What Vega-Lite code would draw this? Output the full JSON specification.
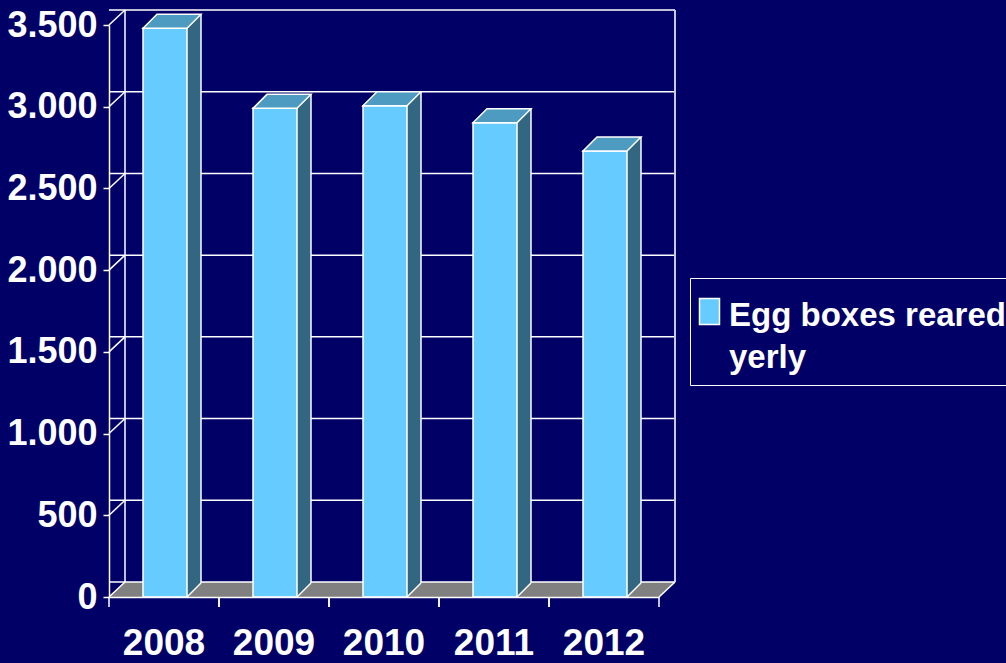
{
  "$schema": "https://vega.github.io/schema/vega-lite/v6.json",
  "width": 550,
  "height": 572,
  "autosize": {"type": "none"},
  "padding": {"left": 109, "top": 25, "right": 347, "bottom": 66},
  "background": "#000066",
  "config": {
    "view": {"stroke": null},
    "font": "Liberation Sans, Arial, sans-serif",
    "axisX": {"labelPadding": 28, "labelAlign": "center", "labelBaseline": "top", "bandPosition": 0.5}
  },
  "datasets": {
    "bars": [
      {"year": "2008", "boxes": 3480},
      {"year": "2009", "boxes": 2990},
      {"year": "2010", "boxes": 3006},
      {"year": "2011", "boxes": 2902},
      {"year": "2012", "boxes": 2729}
    ],
    "levels": [
      {"v": 0}, {"v": 500}, {"v": 1000}, {"v": 1500},
      {"v": 2000}, {"v": 2500}, {"v": 3000}, {"v": 3500}
    ],
    "one": [{"k": 1}]
  },
  "layer": [
    {
      "data": {"name": "bars"},
      "mark": {"type": "point", "shape": "M-55.5,0 L55.5,0 L71.5,-15 L-39.5,-15 Z", "size": 4, "filled": true, "color": "#808080", "opacity": 1, "strokeWidth": 0},
      "encoding": {
        "x": {"field": "year", "type": "nominal", "title": null, "scale": {"type": "band", "domain": ["2008", "2009", "2010", "2011", "2012"], "paddingInner": 0, "paddingOuter": 0}},
        "y": {"datum": 0, "type": "quantitative", "title": null, "scale": {"domain": [0, 3500], "nice": false}}
      }
    },
    {
      "data": {"name": "levels"},
      "mark": {"type": "rule", "color": "white", "strokeWidth": 1.5, "xOffset": 16, "x2Offset": 16, "yOffset": -15},
      "encoding": {
        "y": {"field": "v", "type": "quantitative", "title": null, "scale": {"domain": [0, 3500], "nice": false}}
      }
    },
    {
      "data": {"name": "bars"},
      "mark": {"type": "rule", "color": "white", "strokeWidth": 1.5, "xOffset": -39, "yOffset": -15, "y2Offset": -15},
      "transform": [{"filter": "datum.year == '2008'"}],
      "encoding": {
        "x": {"field": "year", "type": "nominal", "title": null, "scale": {"type": "band", "domain": ["2008", "2009", "2010", "2011", "2012"], "paddingInner": 0, "paddingOuter": 0}},
        "y": {"datum": 0, "type": "quantitative", "title": null, "scale": {"domain": [0, 3500], "nice": false}},
        "y2": {"datum": 3500}
      }
    },
    {
      "data": {"name": "bars"},
      "mark": {"type": "rule", "color": "#c8c8e6", "strokeWidth": 2, "xOffset": 71, "yOffset": -15, "y2Offset": -15},
      "transform": [{"filter": "datum.year == '2012'"}],
      "encoding": {
        "x": {"field": "year", "type": "nominal", "title": null, "scale": {"type": "band", "domain": ["2008", "2009", "2010", "2011", "2012"], "paddingInner": 0, "paddingOuter": 0}},
        "y": {"datum": 0, "type": "quantitative", "title": null, "scale": {"domain": [0, 3500], "nice": false}},
        "y2": {"datum": 3500}
      }
    },
    {
      "data": {"name": "levels"},
      "mark": {"type": "point", "shape": "M-55,0 L-39,-15", "size": 4, "filled": false, "color": "white", "strokeWidth": 1.5, "opacity": 1},
      "encoding": {
        "x": {"datum": "2008", "type": "nominal", "title": null, "scale": {"type": "band", "domain": ["2008", "2009", "2010", "2011", "2012"], "paddingInner": 0, "paddingOuter": 0}},
        "y": {"field": "v", "type": "quantitative", "title": null, "scale": {"domain": [0, 3500], "nice": false}}
      }
    },
    {
      "data": {"name": "bars"},
      "mark": {"type": "point", "shape": "M55,0 L71,-15", "size": 4, "filled": false, "color": "white", "strokeWidth": 1.5, "opacity": 1},
      "transform": [{"filter": "datum.year == '2012'"}],
      "encoding": {
        "x": {"field": "year", "type": "nominal", "title": null, "scale": {"type": "band", "domain": ["2008", "2009", "2010", "2011", "2012"], "paddingInner": 0, "paddingOuter": 0}},
        "y": {"datum": 0, "type": "quantitative", "title": null, "scale": {"domain": [0, 3500], "nice": false}}
      }
    },
    {
      "data": {"name": "bars"},
      "mark": {"type": "point", "shape": "M-55,0 L-55,10 M55,0 L55,10", "size": 4, "filled": false, "color": "white", "strokeWidth": 1.5, "opacity": 1},
      "encoding": {
        "x": {"field": "year", "type": "nominal", "title": null, "scale": {"type": "band", "domain": ["2008", "2009", "2010", "2011", "2012"], "paddingInner": 0, "paddingOuter": 0}},
        "y": {"datum": 0, "type": "quantitative", "title": null, "scale": {"domain": [0, 3500], "nice": false}}
      }
    },
    {
      "data": {"name": "bars"},
      "mark": {"type": "bar", "width": 14, "xOffset": 30, "yOffset": -14, "y2Offset": -14, "color": "#336680"},
      "encoding": {
        "x": {"field": "year", "type": "nominal", "title": null, "scale": {"type": "band", "domain": ["2008", "2009", "2010", "2011", "2012"], "paddingInner": 0, "paddingOuter": 0}},
        "y": {"field": "boxes", "type": "quantitative", "title": null, "scale": {"domain": [0, 3500], "nice": false}},
        "y2": {"datum": 0}
      }
    },
    {
      "data": {"name": "bars"},
      "mark": {"type": "point", "shape": "M23,-14.5 L37.5,-14.5 L23,0 Z", "size": 4, "filled": true, "color": "#336680", "opacity": 1, "strokeWidth": 0},
      "encoding": {
        "x": {"field": "year", "type": "nominal", "title": null, "scale": {"type": "band", "domain": ["2008", "2009", "2010", "2011", "2012"], "paddingInner": 0, "paddingOuter": 0}},
        "y": {"datum": 0, "type": "quantitative", "title": null, "scale": {"domain": [0, 3500], "nice": false}}
      }
    },
    {
      "data": {"name": "bars"},
      "mark": {"type": "rule", "color": "white", "strokeWidth": 1.5, "xOffset": 37, "yOffset": -14, "y2Offset": -14},
      "encoding": {
        "x": {"field": "year", "type": "nominal", "title": null, "scale": {"type": "band", "domain": ["2008", "2009", "2010", "2011", "2012"], "paddingInner": 0, "paddingOuter": 0}},
        "y": {"field": "boxes", "type": "quantitative", "title": null, "scale": {"domain": [0, 3500], "nice": false}},
        "y2": {"datum": 0}
      }
    },
    {
      "data": {"name": "bars"},
      "mark": {"type": "point", "shape": "M23,0 L37,-14", "size": 4, "filled": false, "color": "white", "strokeWidth": 1.5, "opacity": 1},
      "encoding": {
        "x": {"field": "year", "type": "nominal", "title": null, "scale": {"type": "band", "domain": ["2008", "2009", "2010", "2011", "2012"], "paddingInner": 0, "paddingOuter": 0}},
        "y": {"datum": 0, "type": "quantitative", "title": null, "scale": {"domain": [0, 3500], "nice": false}}
      }
    },
    {
      "data": {"name": "bars"},
      "mark": {"type": "bar", "width": 44, "xOffset": 1, "stroke": "white", "strokeWidth": 1.5},
      "encoding": {
        "x": {
          "field": "year", "type": "nominal", "title": null,
          "scale": {"type": "band", "domain": ["2008", "2009", "2010", "2011", "2012"], "paddingInner": 0, "paddingOuter": 0},
          "axis": {"title": null, "zindex": 1, "bandPosition": 0.5, "labelAngle": 0, "labelAlign": "center", "labelBaseline": "top", "labelFontSize": 37, "labelFontWeight": "bold", "labelColor": "white", "domainColor": "white", "domainWidth": 1.5, "ticks": false, "labelPadding": 28, "grid": false}
        },
        "y": {
          "field": "boxes", "type": "quantitative", "title": null,
          "scale": {"domain": [0, 3500], "nice": false},
          "axis": {"title": null, "values": [0, 500, 1000, 1500, 2000, 2500, 3000, 3500], "labelExpr": "replace(format(datum.value, ','), ',', '.')", "labelFontSize": 36, "labelFontWeight": "bold", "labelColor": "white", "domainColor": "white", "domainWidth": 1.5, "tickColor": "white", "tickWidth": 1.5, "tickSize": 6, "labelPadding": 6, "grid": false}
        },
        "color": {
          "datum": "Egg boxes reared yerly", "type": "nominal",
          "scale": {"range": ["#66ccff"]},
          "legend": {
            "title": null, "orient": "none", "legendX": 581, "legendY": 253,
            "labelExpr": "['Egg boxes reared', 'yerly']",
            "labelFontSize": 33, "labelFontWeight": "bold", "labelColor": "white", "labelLimit": 0,
            "labelOffset": 5, "labelBaseline": "alphabetic",
            "symbolType": "M-0.727,-0.545 L1.091,-0.545 L1.091,1.818 L-0.727,1.818 Z",
            "symbolSize": 484, "symbolOffset": -9,
            "symbolStrokeColor": "white", "symbolStrokeWidth": 1.5,
            "strokeColor": "white", "padding": 10,
            "encode": {"labels": {"update": {"lineHeight": {"value": 42}, "dy": {"value": 21}}}}
          }
        }
      }
    },
    {
      "data": {"name": "bars"},
      "mark": {"type": "point", "shape": "M-21,0 L23,0 L37,-14 L-7,-14 Z", "size": 4, "filled": true, "fill": "#4d9bc0", "stroke": "white", "strokeWidth": 1.5, "opacity": 1},
      "encoding": {
        "x": {"field": "year", "type": "nominal", "title": null, "scale": {"type": "band", "domain": ["2008", "2009", "2010", "2011", "2012"], "paddingInner": 0, "paddingOuter": 0}},
        "y": {"field": "boxes", "type": "quantitative", "title": null, "scale": {"domain": [0, 3500], "nice": false}}
      }
    }
  ]
}
